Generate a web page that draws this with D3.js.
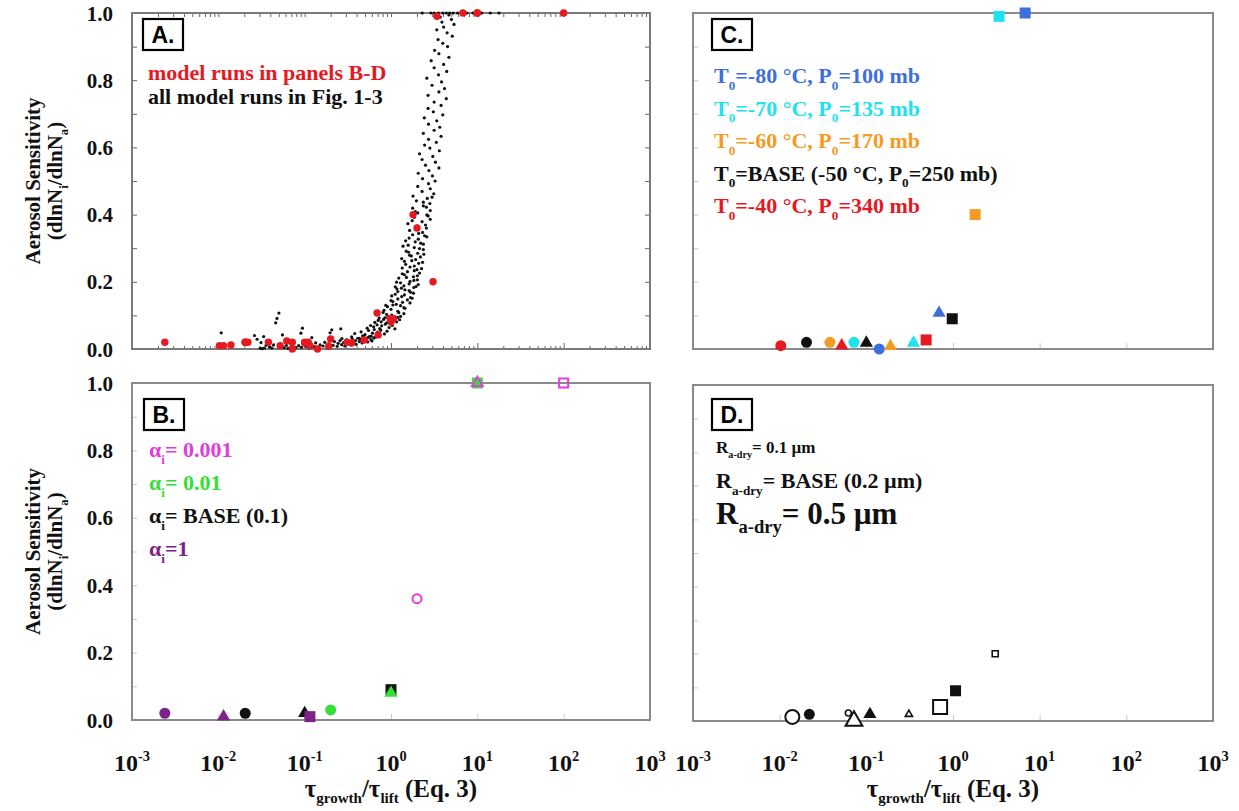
<!DOCTYPE html>
<html>
<head>
<meta charset="utf-8">
<script src="https://cdn.jsdelivr.net/npm/d3@7"></script>
<style>
  body { margin: 0; background: #fff; }
  svg text { font-family: "Liberation Serif", "Times New Roman", serif; font-weight: bold; }
  svg text.tag { font-family: "Liberation Sans", Arial, sans-serif; }
</style>
</head>
<body>
<svg id="fig" width="1239" height="811"></svg>
<script>
// ---------------- data ----------------
const sensTicks = [0, 0.2, 0.4, 0.6, 0.8, 1.0];
const decades = [1e-3, 1e-2, 1e-1, 1, 1e1, 1e2, 1e3];
const decadeExp = ["-3", "-2", "-1", "0", "1", "2", "3"];

// every parcel-model run: [tau_growth/tau_lift, aerosol sensitivity]
const allRuns = [
  // scattered runs at small ratios
  [0.0108,0.048],[0.0262,0.040],[0.0281,0.029],[0.0335,0.037],[0.0312,0.019],[0.0358,0.011],
  [0.0503,0.107],[0.0478,0.091],[0.0462,0.078],[0.0436,0.012],[0.0553,0.042],[0.0942,0.062],
  [0.0905,0.047],[0.197,0.048],[0.206,0.057],[0.121,0.034],[0.262,0.060],[0.87,0.13],[1.12,0.185],
  // runs along the floor
  [0.0305,0.002],[0.0322,0.001],[0.0341,0.003],[0.0392,0.006],[0.0418,0.003],[0.0575,0.004],
  [0.0613,0.011],[0.0641,0.002],[0.0702,0.008],[0.0735,0.015],[0.0788,0.004],[0.0851,0.010],
  [0.0917,0.005],[0.0963,0.016],[0.103,0.008],[0.112,0.003],[0.117,0.013],[0.129,0.007],
  [0.134,0.018],[0.142,0.004],[0.151,0.012],[0.163,0.009],[0.171,0.020],[0.182,0.006],
  [0.189,0.015],[0.213,0.011],[0.221,0.022],[0.238,0.008],[0.244,0.017],[0.257,0.025],
  [0.268,0.013],[0.283,0.019],[0.291,0.009],[0.305,0.027],[0.316,0.016],[0.331,0.021],
  [0.347,0.012],[0.356,0.030],[0.372,0.019],[0.388,0.025],[0.395,0.014],[0.412,0.032],
  [0.429,0.022],[0.446,0.028],[0.463,0.018],[0.482,0.035],[0.497,0.026],[0.515,0.031],
  [0.538,0.021],[0.561,0.037],[0.584,0.028],[0.602,0.024],[0.633,0.033],
  // foot of the rise
  [0.27,0.031],[0.35,0.036],[0.43,0.032],[0.47,0.039],[0.54,0.034],[0.59,0.038],[0.66,0.035],
  [0.38,0.046],[0.45,0.051],[0.50,0.043],[0.55,0.055],[0.61,0.047],[0.64,0.058],[0.70,0.050],
  [0.76,0.056],[0.84,0.045],[0.90,0.053],[0.53,0.062],[0.58,0.070],[0.63,0.066],[0.69,0.072],
  [0.74,0.061],[0.78,0.069],[0.86,0.074],[0.95,0.064],[1.03,0.070],[1.11,0.060],[0.65,0.079],
  [0.71,0.085],[0.77,0.081],[0.82,0.088],[0.89,0.078],[0.96,0.086],[1.01,0.083],[1.09,0.089],
  [1.16,0.081],[1.26,0.087],[0.73,0.092],[0.92,0.095],[1.19,0.094],
  // steep part of the curve
  [0.85,0.093],[1.29,0.097],[1.02,0.101],[1.41,0.105],[0.81,0.109],[1.20,0.112],[1.00,0.118],
  [1.45,0.121],[0.91,0.126],[1.29,0.129],[1.15,0.133],[1.66,0.137],[1.05,0.141],[1.55,0.146],
  [1.20,0.149],[1.68,0.153],[1.02,0.158],[1.43,0.161],[1.82,0.166],[1.20,0.171],[1.62,0.174],
  [1.17,0.179],[1.84,0.183],[1.41,0.188],[2.07,0.192],[1.29,0.197],[1.66,0.201],[2.02,0.206],
  [1.23,0.211],[1.82,0.215],[1.43,0.221],[2.14,0.226],[1.55,0.230],[2.00,0.236],[1.35,0.241],
  [1.86,0.247],[1.48,0.252],[2.32,0.258],[1.74,0.263],[1.33,0.269],[2.19,0.274],[1.64,0.279],
  [2.04,0.285],[1.50,0.291],[2.37,0.296],[1.86,0.302],[1.58,0.309],[2.21,0.315],[1.48,0.322],
  [2.07,0.327],[2.60,0.334],[1.78,0.340],[2.32,0.347],[1.64,0.353],[2.57,0.360],[2.02,0.366],
  [1.57,0.373],[2.29,0.379],[2.85,0.386],[1.86,0.392],[2.60,0.399],[2.04,0.405],[2.85,0.412],
  [1.78,0.419],[2.37,0.426],[2.82,0.433],[1.97,0.441],[2.63,0.448],[1.80,0.455],[3.13,0.462],
  [2.29,0.469],[2.85,0.477],[2.04,0.484],[2.72,0.492],[3.24,0.500],[2.32,0.507],[3.02,0.515],
  [2.07,0.523],[2.75,0.531],[3.59,0.539],[2.51,0.547],[3.27,0.556],[2.29,0.564],[3.05,0.573],
  [2.14,0.581],[3.63,0.590],[2.82,0.598],[2.45,0.607],[3.35,0.615],[2.72,0.624],[3.80,0.633],
  [2.37,0.642],[3.16,0.651],[3.67,0.660],[2.72,0.669],[3.39,0.679],[2.43,0.688],[3.98,0.697],
  [3.09,0.706],[2.69,0.716],[3.80,0.725],[3.16,0.735],[4.37,0.745],[2.69,0.755],[3.59,0.765],
  [4.17,0.775],[2.99,0.785],[3.85,0.795],[2.60,0.806],[3.55,0.816],[4.42,0.826],[3.16,0.837],
  [4.07,0.847],[2.92,0.858],[4.68,0.868],[3.59,0.879],[3.20,0.889],[4.52,0.900],[3.98,0.910],
  [3.51,0.921],[5.13,0.931],[4.47,0.941],[3.39,0.950],[4.07,0.958],[5.37,0.966],[3.89,0.973],
  [5.01,0.981],[3.72,0.988],[4.68,0.994],
  [1.12,0.095],[0.89,0.103],[1.23,0.108],[0.83,0.115],[1.41,0.123],[1.05,0.131],[1.36,0.139],
  [1.00,0.144],[1.76,0.151],[1.33,0.156],[1.12,0.163],[1.68,0.169],[1.45,0.176],[1.32,0.181],
  [1.95,0.186],[1.62,0.194],[1.16,0.199],[1.84,0.204],[1.51,0.213],[2.02,0.218],[1.35,0.224],
  [1.86,0.233],[2.26,0.239],[1.66,0.244],[2.09,0.255],[1.43,0.261],[1.93,0.266],[1.72,0.277],
  [2.40,0.282],[1.60,0.288],[2.14,0.299],[1.38,0.306],[2.37,0.312],[1.91,0.319],[1.62,0.330],
  [2.45,0.337],[2.09,0.344],[1.95,0.357],[2.51,0.369],[1.76,0.382],[2.69,0.396],[1.91,0.409],
  [2.57,0.422],[2.37,0.437],[2.99,0.452],
  // saturated runs
  [2.30,1],[2.90,1],[3.16,1],[3.55,1],[3.98,1],[4.37,1],[4.79,1],[5.25,1],[5.89,1],
  [6.61,1],[7.59,1],[8.91,1],[11.2,1],[14.1,1],[17.8,1]
];

// panel B: deposition coefficient experiments (case, marker, ratio, sensitivity)
const alphaRuns = [
  { c: "a1",    m: "circle",   tau: 0.0024, s: 0.020 },
  { c: "a1",    m: "triangle", tau: 0.0115, s: 0.010 },
  { c: "base",  m: "circle",   tau: 0.0205, s: 0.020 },
  { c: "base",  m: "triangle", tau: 0.100,  s: 0.020 },
  { c: "a1",    m: "square",   tau: 0.115,  s: 0.010 },
  { c: "a01",   m: "circle",   tau: 0.200,  s: 0.030 },
  { c: "base",  m: "square",   tau: 1.00,   s: 0.090 },
  { c: "a01",   m: "triangle", tau: 1.00,   s: 0.080 },
  { c: "a01",   m: "square",   tau: 10.0,   s: 1.000 },
  { c: "a001",  m: "circle",   tau: 2.00,   s: 0.360 },
  { c: "a001",  m: "triangle", tau: 10.0,   s: 1.000 },
  { c: "a001",  m: "square",   tau: 100,    s: 1.000 }
];

// panel C: initial temperature / pressure experiments
const tempRuns = [
  { c: "t40",  m: "circle",   tau: 0.0103, s: 0.010 },
  { c: "base", m: "circle",   tau: 0.0204, s: 0.020 },
  { c: "t60",  m: "circle",   tau: 0.038,  s: 0.020 },
  { c: "t40",  m: "triangle", tau: 0.052,  s: 0.010 },
  { c: "t70",  m: "circle",   tau: 0.072,  s: 0.020 },
  { c: "base", m: "triangle", tau: 0.100,  s: 0.018 },
  { c: "t80",  m: "circle",   tau: 0.141,  s: 0.000 },
  { c: "t60",  m: "triangle", tau: 0.190,  s: 0.008 },
  { c: "t70",  m: "triangle", tau: 0.350,  s: 0.018 },
  { c: "t40",  m: "square",   tau: 0.490,  s: 0.027 },
  { c: "t80",  m: "triangle", tau: 0.690,  s: 0.107 },
  { c: "base", m: "square",   tau: 0.980,  s: 0.090 },
  { c: "t60",  m: "square",   tau: 1.80,   s: 0.400 },
  { c: "t70",  m: "square",   tau: 3.40,   s: 0.990 },
  { c: "t80",  m: "square",   tau: 6.80,   s: 1.000 }
];

// panel D: dry aerosol radius experiments
const radiusRuns = [
  { c: "r05",  m: "circle",   tau: 0.014, s: 0.012 },
  { c: "base", m: "circle",   tau: 0.022, s: 0.020 },
  { c: "r01",  m: "circle",   tau: 0.062, s: 0.024 },
  { c: "r05",  m: "triangle", tau: 0.072, s: 0.000 },
  { c: "base", m: "triangle", tau: 0.110, s: 0.020 },
  { c: "r01",  m: "triangle", tau: 0.310, s: 0.020 },
  { c: "r05",  m: "square",   tau: 0.710, s: 0.042 },
  { c: "base", m: "square",   tau: 1.07,  s: 0.090 },
  { c: "r01",  m: "square",   tau: 3.07,  s: 0.200 }
];

// legend labels
const legendA = [
  { parts: ["model runs in panels B-D"], col: "red" },
  { parts: ["all model runs in Fig. 1-3"], col: "ink" }
];
const legendB = [
  { parts: ["α", ["i", "sub"], "= 0.001"], col: "magenta" },
  { parts: ["α", ["i", "sub"], "= 0.01"], col: "green" },
  { parts: ["α", ["i", "sub"], "= BASE (0.1)"], col: "ink" },
  { parts: ["α", ["i", "sub"], "=1"], col: "purple" }
];
const legendC = [
  { parts: ["T", ["0", "sub"], "=-80 °C, P", ["0", "sub"], "=100 mb"], col: "blue" },
  { parts: ["T", ["0", "sub"], "=-70 °C, P", ["0", "sub"], "=135 mb"], col: "cyan" },
  { parts: ["T", ["0", "sub"], "=-60 °C, P", ["0", "sub"], "=170 mb"], col: "orange" },
  { parts: ["T", ["0", "sub"], "=BASE (-50 °C, P", ["0", "sub"], "=250 mb)"], col: "ink" },
  { parts: ["T", ["0", "sub"], "=-40 °C, P", ["0", "sub"], "=340 mb"], col: "red" }
];
const legendD = [
  { parts: ["R", ["a-dry", "sub"], "= 0.1 µm"], size: 17 },
  { parts: ["R", ["a-dry", "sub"], "= BASE (0.2 µm)"], size: 22 },
  { parts: ["R", ["a-dry", "sub"], "= 0.5 µm"], size: 31 }
];

// ---------------- styling ----------------
const palette = {
  ink: "#111111", red: "#e5191f", magenta: "#e03ce0", green: "#33e033",
  purple: "#7d2289", blue: "#3d6fdc", cyan: "#1ee2ec", orange: "#f59a23"
};
const styleB = {
  a1:   { fill: palette.purple, stroke: "none", d: 11 },
  base: { fill: palette.ink, stroke: "none", d: 11 },
  a01:  { fill: palette.green, stroke: "none", d: 11 },
  a001: { fill: "none", stroke: palette.magenta, sw: 2, d: 9 }
};
const styleC = {
  t80: { fill: palette.blue, stroke: "none", d: 11 },
  t70: { fill: palette.cyan, stroke: "none", d: 11 },
  t60: { fill: palette.orange, stroke: "none", d: 11 },
  base: { fill: palette.ink, stroke: "none", d: 11 },
  t40: { fill: palette.red, stroke: "none", d: 11 }
};
const styleD = {
  r01:  { fill: "#fff", stroke: palette.ink, sw: 1.6, d: 6 },
  base: { fill: palette.ink, stroke: "none", d: 11 },
  r05:  { fill: "#fff", stroke: palette.ink, sw: 2, d: 14 }
};

const layout = {
  A: { x0: 132, x1: 650, y0: 13, y1: 349, tag: [143, 19], legend: [148, 80, 24] },
  B: { x0: 132, x1: 650, y0: 383, y1: 720, tag: [144, 399], legend: [149, 457, 33] },
  C: { x0: 693, x1: 1213, y0: 13, y1: 349, tag: [712, 19], legend: [714, 83, 32.5] },
  D: { x0: 693, x1: 1213, y0: 385, y1: 721, tag: [712, 399], legend: [716, 453] }
};

const svg = d3.select("#fig");

function scalesFor(p) {
  return {
    x: d3.scaleLog().domain([1e-3, 1e3]).range([p.x0, p.x1]),
    y: d3.scaleLinear().domain([0, 1]).range([p.y1, p.y0])
  };
}

// text with sub/superscript pieces
function rich(g, x, y, parts, size, color, anchor, subDrop) {
  const t = g.append("text").attr("x", x).attr("y", y)
    .attr("font-size", size).attr("fill", color)
    .attr("text-anchor", anchor || "start");
  let shift = 0;
  const drop = subDrop || 0.3;
  parts.forEach(p => {
    const isArr = Array.isArray(p);
    const kind = isArr ? p[1] : null;
    const target = kind === "sub" ? drop * size : kind === "sup" ? -0.42 * size : 0;
    const ts = t.append("tspan").text(isArr ? p[0] : p).attr("dy", target - shift);
    if (kind) ts.attr("font-size", size * 0.6);
    shift = target;
  });
  return t;
}

function frame(p, color) {
  svg.append("rect").attr("x", p.x0).attr("y", p.y0)
    .attr("width", p.x1 - p.x0).attr("height", p.y1 - p.y0)
    .attr("fill", "none").attr("stroke", color).attr("stroke-width", 2);
}

function tag(p, label) {
  const g = svg.append("g");
  g.append("rect").attr("x", p.tag[0]).attr("y", p.tag[1]).attr("width", 40).attr("height", 31)
    .attr("fill", "#fff").attr("stroke", "#000").attr("stroke-width", 2.2);
  g.append("text").attr("class", "tag").attr("x", p.tag[0] + 20).attr("y", p.tag[1] + 24)
    .attr("text-anchor", "middle").attr("font-size", 23).attr("fill", "#000").text(label);
}

function ticks(p, sc, color, full) {
  const g = svg.append("g").attr("stroke", color);
  const yAx = d3.axisLeft(sc.y).ticks(10).tickSize(-5).tickFormat("");
  g.append("g").attr("transform", `translate(${p.x0},0)`).call(yAx)
    .call(a => a.select(".domain").remove()).selectAll("line").attr("stroke", color);
  const xMajor = d3.axisBottom(sc.x).tickValues(decades).tickSize(-6).tickFormat("");
  g.append("g").attr("transform", `translate(0,${p.y1})`).call(xMajor)
    .call(a => a.select(".domain").remove()).selectAll("line").attr("stroke", color);
  if (full) {
    const yAxR = d3.axisRight(sc.y).ticks(10).tickSize(-5).tickFormat("");
    g.append("g").attr("transform", `translate(${p.x1},0)`).call(yAxR)
      .call(a => a.select(".domain").remove()).selectAll("line").attr("stroke", color);
    const minor = sc.x.ticks().filter(v => decades.indexOf(v) < 0);
    const xMinor = d3.axisBottom(sc.x).tickValues(minor).tickSize(-3).tickFormat("");
    g.append("g").attr("transform", `translate(0,${p.y1})`).call(xMinor)
      .call(a => a.select(".domain").remove()).selectAll("line").attr("stroke", color);
    const xTop = d3.axisTop(sc.x).tickValues(sc.x.ticks()).tickSize(-4).tickFormat("");
    g.append("g").attr("transform", `translate(0,${p.y0})`).call(xTop)
      .call(a => a.select(".domain").remove()).selectAll("line").attr("stroke", color);
  }
}

function symbolPath(shape, d) {
  const type = shape === "circle" ? d3.symbolCircle : shape === "square" ? d3.symbolSquare : d3.symbolTriangle;
  const area = shape === "circle" ? Math.PI * d * d / 4 : shape === "square" ? d * d : Math.sqrt(3) / 4 * Math.pow(d * 1.2, 2);
  return d3.symbol().type(type).size(area)();
}

function markers(sc, runs, styles) {
  svg.append("g").selectAll("path").data(runs).join("path")
    .attr("transform", r => `translate(${sc.x(r.tau)},${sc.y(r.s)})`)
    .attr("d", r => symbolPath(r.m, styles[r.c].d))
    .attr("fill", r => styles[r.c].fill)
    .attr("stroke", r => styles[r.c].stroke)
    .attr("stroke-width", r => styles[r.c].sw || 0);
}

function sensLabels(p, sc) {
  svg.append("g").selectAll("text").data(sensTicks).join("text")
    .attr("x", 113).attr("y", v => sc.y(v)).attr("dy", "0.36em")
    .attr("text-anchor", "end").attr("font-size", 21).attr("fill", "#111")
    .text(d3.format(".1f"));
}

function decadeLabels(sc, yBase) {
  const g = svg.append("g");
  decades.forEach((v, i) => {
    rich(g, sc.x(v), yBase, ["10", [decadeExp[i], "sup"]], 24, "#111", "middle");
  });
}

function yTitle(p) {
  const cy = (p.y0 + p.y1) / 2;
  const g = svg.append("g");
  g.append("text").attr("transform", `translate(40,${cy}) rotate(-90)`)
    .attr("text-anchor", "middle").attr("font-size", 21).attr("fill", "#111")
    .text("Aerosol Sensitivity");
  const t = rich(g, 0, 0, ["(dlnN", ["i", "sub"], "/dlnN", ["a", "sub"], ")"], 21, "#111", "middle");
  t.attr("transform", `translate(62,${cy}) rotate(-90)`);
}

function xTitle(p) {
  rich(svg, (p.x0 + p.x1) / 2, 797, ["τ", ["growth", "sub"], "/τ", ["lift", "sub"], " (Eq. 3)"], 25, "#111", "middle", 0.24);
}

// ---------------- panel A ----------------
{
  const p = layout.A, sc = scalesFor(p);
  ticks(p, sc, "#666", true);
  frame(p, "#7a7a7a");
  svg.append("g").selectAll("circle").data(allRuns).join("circle")
    .attr("cx", d => sc.x(d[0])).attr("cy", d => sc.y(d[1])).attr("r", 1.6).attr("fill", "#111");
  const featured = alphaRuns.concat(tempRuns, radiusRuns);
  svg.append("g").selectAll("circle").data(featured).join("circle")
    .attr("cx", r => sc.x(r.tau)).attr("cy", r => sc.y(r.s)).attr("r", 3.7).attr("fill", palette.red);
  tag(p, "A.");
  legendA.forEach((l, i) => rich(svg, p.legend[0], p.legend[1] + i * p.legend[2], l.parts, 22, palette[l.col]));
  sensLabels(p, sc);
  yTitle(p);
}

// ---------------- panel B ----------------
{
  const p = layout.B, sc = scalesFor(p);
  ticks(p, sc, "#c8c8c8", false);
  frame(p, "#8a8a8a");
  markers(sc, alphaRuns, styleB);
  tag(p, "B.");
  legendB.forEach((l, i) => rich(svg, p.legend[0], p.legend[1] + i * p.legend[2], l.parts, 22, palette[l.col]));
  sensLabels(p, sc);
  yTitle(p);
  decadeLabels(sc, 771);
  xTitle(p);
}

// ---------------- panel C ----------------
{
  const p = layout.C, sc = scalesFor(p);
  ticks(p, sc, "#c8c8c8", false);
  frame(p, "#8a8a8a");
  markers(sc, tempRuns, styleC);
  tag(p, "C.");
  legendC.forEach((l, i) => rich(svg, p.legend[0], p.legend[1] + i * p.legend[2], l.parts, 22, palette[l.col]));
}

// ---------------- panel D ----------------
{
  const p = layout.D, sc = scalesFor(p);
  ticks(p, sc, "#c8c8c8", false);
  frame(p, "#8a8a8a");
  markers(sc, radiusRuns, styleD);
  tag(p, "D.");
  const rows = [453, 488, 524];
  legendD.forEach((l, i) => rich(svg, p.legend[0], rows[i], l.parts, l.size, palette.ink));
  decadeLabels(sc, 771);
  xTitle(p);
}
</script>
</body>
</html>
